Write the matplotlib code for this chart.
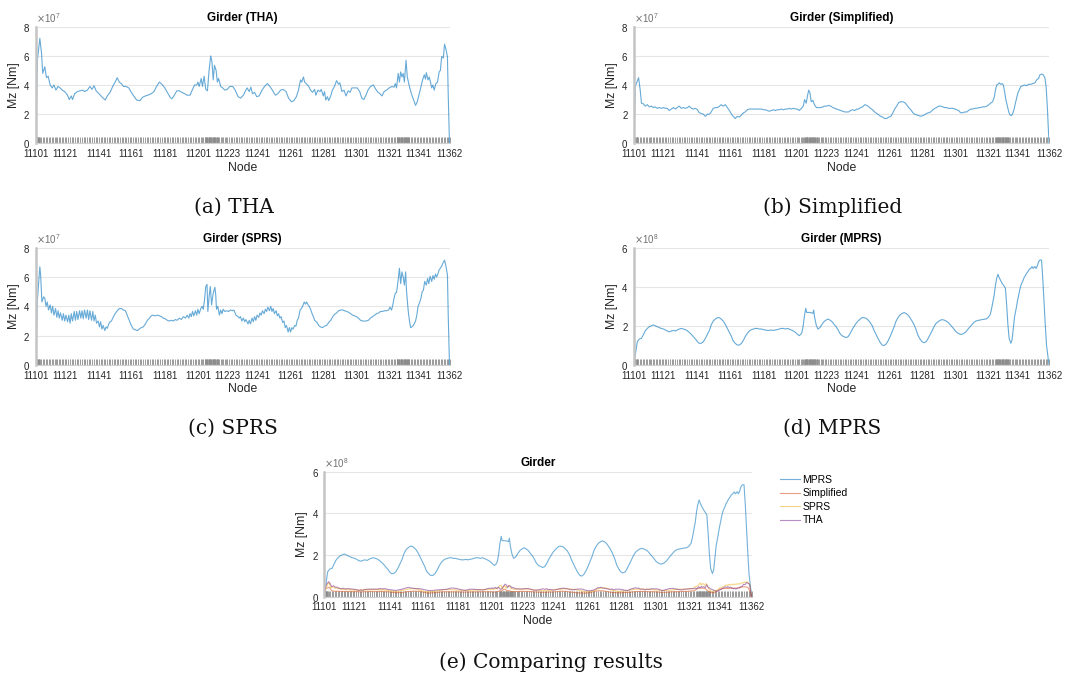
import numpy as np
import matplotlib
matplotlib.use("Agg")
import matplotlib.pyplot as plt
from matplotlib.ticker import ScalarFormatter

plt.rcParams["font.family"] = ["Liberation Sans", "DejaVu Sans"]

# ---------------------------------------------------------------- data
# Girder nodes: labelled nodes and their station along the girder (0..1000)
label_nodes = ["11101", "11121", "11141", "11161", "11181", "11201", "11223",
               "11241", "11261", "11281", "11301", "11321", "11341", "11362"]
label_station = [0, 70, 153, 231, 313, 392, 463, 536, 616, 696, 775, 855, 924, 1000]
# number of nodes between consecutive labelled nodes
nodes_between = [20, 20, 20, 20, 20, 22, 18, 20, 20, 20, 20, 20, 21]
# extra closely spaced nodes near the piers (station ranges, node count)
pier_clusters = [(0, 8, 6), (410, 440, 16), (872, 902, 16)]

# THA envelope, Mz in 1e7 Nm
tha_station = [0, 4, 10, 14, 17, 22, 26, 30, 35, 40, 44, 49, 54, 59, 64, 70, 77, 81, 86, 89,
               94, 101, 107, 114, 118, 125, 131, 136, 141, 146, 153, 161, 168, 173, 180, 186,
               192, 197, 202, 207, 212, 218, 225, 231, 238, 244, 252, 258, 265, 271, 279, 286,
               292, 299, 305, 312, 318, 325, 329, 334, 341, 347, 353, 360, 366, 373, 379, 384,
               389, 392, 395, 400, 403, 407, 411, 415, 419, 423, 426, 429, 432, 436, 439, 442,
               447, 452, 457, 463, 469, 476, 482, 489, 495, 502, 507, 511, 516, 520, 524, 529,
               534, 540, 547, 553, 560, 566, 573, 579, 585, 592, 598, 605, 611, 618, 624, 630,
               635, 640, 643, 647, 650, 655, 660, 664, 669, 674, 677, 682, 687, 690, 695, 698,
               701, 705, 708, 713, 717, 722, 727, 732, 735, 740, 745, 750, 755, 760, 764, 771,
               777, 783, 788, 793, 798, 803, 809, 816, 822, 827, 832, 837, 842, 848, 854, 861,
               866, 869, 872, 876, 879, 882, 885, 888, 891, 895, 898, 903, 908, 913, 918, 922,
               927, 932, 935, 939, 942, 944, 948, 951, 954, 957, 960, 963, 967, 971, 975, 978,
               981, 985, 988, 991, 995, 997, 1000]
tha_mz = [0, 5.7, 7.2, 6.2, 4.8, 5.25, 4.5, 4.6, 4.0, 3.8, 4.0, 3.65, 3.9, 3.8, 3.65, 3.55, 3.3,
          3.0, 3.25, 3.0, 3.4, 3.55, 3.6, 3.65, 3.55, 3.65, 3.9, 3.7, 3.95, 3.6, 3.4, 3.15, 2.97,
          3.25, 3.5, 3.9, 4.2, 4.5, 4.2, 4.1, 3.9, 3.9, 3.8, 3.5, 3.2, 2.97, 2.93, 3.15, 3.25,
          3.3, 3.4, 3.55, 3.9, 4.2, 4.05, 3.8, 3.5, 3.15, 3.05, 3.25, 3.6, 3.6, 3.5, 3.4, 3.3,
          3.3, 3.7, 4.0, 4.0, 4.2, 3.9, 4.45, 3.9, 4.6, 3.7, 3.6, 5.0, 6.0, 5.6, 4.35, 5.35, 5.0,
          4.2, 4.45, 3.9, 3.8, 3.65, 3.7, 3.9, 3.9, 3.65, 3.2, 3.1, 3.3, 3.6, 3.8, 3.55, 3.85,
          3.4, 3.5, 3.2, 3.25, 3.65, 3.9, 4.1, 3.9, 3.6, 3.3, 3.4, 3.65, 3.7, 3.55, 3.1, 2.85,
          2.93, 3.2, 3.65, 4.35, 4.2, 4.55, 4.2, 4.05, 3.9, 3.65, 3.5, 3.7, 3.3, 3.65, 3.55, 3.7,
          3.25, 3.55, 2.97, 3.2, 2.93, 3.25, 3.65, 3.9, 4.3, 4.05, 4.15, 3.55, 3.65, 3.25, 3.6,
          3.5, 3.8, 3.8, 3.8, 3.55, 3.1, 3.0, 3.3, 3.65, 3.9, 4.0, 3.7, 3.5, 3.4, 3.25, 3.55,
          3.65, 3.8, 3.9, 3.85, 4.1, 3.8, 4.8, 4.2, 4.9, 4.55, 4.8, 4.2, 5.7, 4.55, 3.9, 3.4,
          3.0, 2.6, 2.85, 3.4, 4.0, 4.35, 4.7, 4.4, 4.85, 4.35, 4.55, 4.2, 3.8, 4.0, 3.65, 4.1,
          4.2, 4.9, 5.0, 5.95, 5.85, 6.8, 6.5, 5.95, 3.2, 0]

# Simplified method, Mz in 1e7 Nm
simp_station = [0, 3, 11, 15, 18, 23, 27, 32, 37, 42, 47, 51, 56, 61, 66, 71, 76, 80, 85, 90,
                95, 100, 104, 109, 114, 119, 124, 129, 133, 138, 143, 148, 153, 157, 162, 167,
                172, 177, 182, 186, 191, 196, 201, 206, 210, 215, 220, 225, 230, 235, 239, 244,
                249, 254, 259, 264, 268, 273, 278, 283, 288, 292, 297, 302, 307, 312, 317, 321,
                326, 331, 336, 341, 345, 350, 355, 360, 365, 370, 374, 379, 384, 389, 394, 398,
                402, 405, 408, 411, 415, 418, 421, 424, 427, 431, 434, 437, 440, 445, 450, 455,
                459, 464, 469, 474, 479, 484, 488, 493, 498, 503, 508, 512, 517, 522, 527, 532,
                537, 541, 546, 551, 556, 561, 566, 570, 575, 580, 585, 590, 594, 599, 604, 609,
                614, 619, 623, 628, 633, 638, 643, 647, 652, 657, 662, 667, 672, 676, 681, 686,
                691, 696, 700, 705, 710, 715, 720, 725, 729, 734, 739, 744, 749, 753, 758, 763,
                768, 773, 778, 782, 787, 792, 797, 802, 806, 811, 816, 821, 826, 831, 835, 840,
                845, 850, 855, 859, 864, 868, 871, 874, 877, 880, 884, 887, 890, 893, 896, 900,
                903, 906, 909, 912, 916, 919, 922, 925, 929, 932, 937, 941, 946, 951, 956, 961,
                966, 970, 975, 978, 983, 986, 990, 993, 996, 1000]
simp_mz = [0, 3.9, 4.5, 3.65, 2.75, 2.7, 2.55, 2.65, 2.5, 2.55, 2.45, 2.5, 2.4, 2.45, 2.4, 2.45,
           2.4, 2.4, 2.25, 2.35, 2.45, 2.35, 2.45, 2.55, 2.4, 2.45, 2.4, 2.45, 2.55, 2.4, 2.35,
           2.4, 2.3, 2.1, 2.05, 2.0, 1.85, 2.0, 2.0, 2.15, 2.4, 2.45, 2.45, 2.55, 2.65, 2.55,
           2.65, 2.45, 2.25, 2.0, 1.85, 1.7, 1.85, 1.8, 1.95, 2.1, 2.15, 2.3, 2.35, 2.35, 2.35,
           2.35, 2.35, 2.35, 2.35, 2.3, 2.3, 2.25, 2.2, 2.25, 2.3, 2.25, 2.3, 2.3, 2.35, 2.3,
           2.35, 2.35, 2.4, 2.35, 2.4, 2.35, 2.35, 2.25, 2.35, 2.45, 2.55, 3.0, 2.75, 3.25, 3.65,
           3.45, 2.85, 2.95, 2.7, 2.55, 2.45, 2.45, 2.45, 2.5, 2.55, 2.55, 2.6, 2.55, 2.45, 2.4,
           2.35, 2.3, 2.25, 2.2, 2.15, 2.15, 2.15, 2.25, 2.3, 2.25, 2.35, 2.35, 2.45, 2.5, 2.65,
           2.6, 2.5, 2.4, 2.3, 2.15, 2.05, 1.95, 1.85, 1.8, 1.7, 1.7, 1.8, 1.85, 2.05, 2.35,
           2.55, 2.8, 2.85, 2.85, 2.8, 2.65, 2.45, 2.3, 2.1, 2.0, 1.95, 1.9, 1.85, 1.9, 1.95,
           2.05, 2.1, 2.15, 2.3, 2.4, 2.45, 2.55, 2.55, 2.5, 2.45, 2.45, 2.4, 2.4, 2.4, 2.35,
           2.3, 2.25, 2.1, 2.1, 2.15, 2.15, 2.25, 2.35, 2.35, 2.4, 2.4, 2.45, 2.45, 2.5, 2.5,
           2.55, 2.65, 2.75, 2.85, 3.15, 3.65, 4.0, 4.05, 4.15, 4.05, 4.1, 4.0, 3.55, 3.0, 2.5,
           2.15, 1.95, 1.9, 2.0, 2.35, 2.75, 3.1, 3.45, 3.7, 3.9, 3.95, 4.0, 3.95, 4.05, 4.05,
           4.1, 4.15, 4.35, 4.45, 4.7, 4.75, 4.7, 4.5, 3.9, 2.5, 0]

# SPRS, Mz in 1e7 Nm
sprs_station = [0, 4, 10, 12, 15, 19, 22, 25, 28, 31, 35, 38, 41, 44, 48, 51, 54, 57, 60, 64,
                67, 70, 73, 77, 80, 83, 86, 89, 93, 96, 99, 102, 106, 109, 112, 115, 118, 122,
                125, 128, 131, 135, 138, 141, 144, 147, 151, 154, 157, 160, 163, 167, 170, 173,
                178, 183, 188, 192, 197, 202, 207, 212, 217, 221, 226, 231, 236, 241, 246, 250,
                255, 260, 265, 270, 275, 279, 284, 289, 294, 299, 304, 308, 313, 318, 323, 328,
                333, 337, 342, 347, 352, 357, 362, 366, 370, 373, 376, 379, 382, 386, 389, 392,
                395, 399, 402, 405, 408, 411, 414, 416, 419, 422, 425, 429, 433, 435, 437, 440,
                444, 447, 450, 453, 457, 461, 466, 471, 476, 479, 484, 489, 492, 495, 498, 502,
                505, 508, 513, 516, 519, 523, 526, 529, 532, 535, 539, 542, 545, 548, 552, 555,
                558, 561, 565, 568, 571, 574, 577, 581, 584, 587, 590, 593, 597, 600, 603, 606,
                610, 613, 616, 619, 622, 626, 629, 632, 635, 639, 642, 645, 649, 652, 655, 658,
                661, 665, 668, 671, 674, 678, 681, 684, 688, 693, 698, 703, 708, 713, 718, 722,
                727, 732, 737, 742, 747, 751, 756, 761, 766, 771, 775, 780, 785, 790, 795, 799,
                804, 809, 814, 819, 824, 829, 833, 838, 843, 848, 853, 856, 860, 863, 866, 869,
                872, 876, 879, 882, 885, 888, 891, 894, 896, 900, 903, 906, 909, 913, 918, 921,
                924, 927, 931, 934, 937, 940, 944, 947, 950, 953, 957, 960, 963, 966, 969, 973,
                975, 978, 982, 985, 988, 991, 995, 997, 1000]
sprs_mz = [0, 4.4, 6.7, 6.1, 4.3, 4.65, 4.55, 4.0, 4.3, 3.75, 4.1, 3.55, 4.0, 3.4, 3.85, 3.25,
           3.7, 3.2, 3.55, 3.05, 3.5, 3.0, 3.4, 2.95, 3.4, 2.85, 3.5, 3.0, 3.65, 3.05, 3.65, 3.1,
           3.7, 3.2, 3.7, 3.15, 3.75, 3.2, 3.75, 3.1, 3.7, 3.05, 3.65, 3.0, 3.4, 2.85, 3.0, 2.6,
           2.95, 2.45, 2.7, 2.35, 2.6, 2.5, 2.9, 3.0, 3.3, 3.5, 3.7, 3.85, 3.85, 3.75, 3.7, 3.4,
           3.05, 2.7, 2.45, 2.4, 2.35, 2.45, 2.55, 2.6, 2.8, 3.05, 3.2, 3.35, 3.4, 3.35, 3.4,
           3.35, 3.3, 3.2, 3.15, 3.05, 3.0, 3.05, 3.0, 3.1, 3.05, 3.2, 3.1, 3.3, 3.2, 3.4, 3.2,
           3.5, 3.3, 3.65, 3.35, 3.7, 3.4, 3.8, 3.5, 3.85, 4.0, 3.8, 4.45, 5.35, 5.5, 3.65, 4.65,
           5.35, 4.1, 4.9, 5.3, 4.8, 3.8, 4.0, 3.4, 3.75, 3.5, 3.8, 3.65, 3.7, 3.65, 3.75, 3.7,
           3.75, 3.4, 3.3, 3.2, 3.3, 3.0, 3.2, 2.95, 3.1, 2.8, 3.05, 2.8, 3.2, 2.95, 3.3, 3.05,
           3.4, 3.25, 3.55, 3.4, 3.7, 3.5, 3.8, 3.65, 3.95, 3.7, 4.0, 3.65, 3.85, 3.5, 3.7, 3.35,
           3.5, 3.2, 3.3, 2.9, 3.0, 2.55, 2.7, 2.25, 2.55, 2.25, 2.55, 2.45, 2.7, 2.65, 3.05,
           3.2, 3.75, 3.85, 4.0, 4.3, 4.15, 4.3, 4.1, 4.0, 3.75, 3.5, 3.3, 3.05, 2.95, 2.85, 2.7,
           2.6, 2.55, 2.65, 2.7, 2.9, 3.05, 3.3, 3.45, 3.55, 3.7, 3.75, 3.75, 3.7, 3.65, 3.6,
           3.5, 3.4, 3.35, 3.3, 3.2, 3.05, 3.0, 3.0, 3.0, 3.05, 3.2, 3.3, 3.4, 3.5, 3.55, 3.65,
           3.65, 3.7, 3.7, 3.75, 3.95, 3.75, 4.1, 4.55, 4.9, 4.95, 5.8, 6.6, 5.55, 6.35, 6.0,
           5.45, 6.35, 5.1, 3.75, 3.05, 2.55, 2.6, 2.7, 3.0, 3.4, 4.0, 4.2, 4.55, 5.0, 5.1, 5.7,
           5.45, 5.9, 5.55, 6.05, 5.7, 6.1, 5.85, 6.2, 6.0, 6.3, 6.5, 6.6, 6.8, 7.0, 7.15, 6.8,
           6.15, 3.3, 0]

# MPRS, Mz in 1e8 Nm
mprs_station = [0, 3, 8, 13, 18, 23, 27, 32, 37, 42, 47, 51, 56, 61, 66, 71, 76, 80, 85, 90,
                95, 100, 104, 109, 114, 119, 124, 129, 133, 138, 143, 148, 153, 157, 162, 167,
                172, 177, 182, 186, 191, 196, 201, 206, 210, 215, 220, 225, 230, 235, 239, 244,
                249, 254, 259, 264, 268, 273, 278, 283, 288, 292, 297, 302, 307, 312, 317, 321,
                326, 331, 336, 341, 345, 350, 355, 360, 365, 370, 374, 379, 384, 389, 394, 398,
                402, 405, 408, 411, 414, 416, 421, 426, 431, 433, 435, 439, 443, 448, 453, 458,
                463, 468, 472, 477, 482, 487, 492, 496, 501, 506, 511, 516, 521, 525, 530, 535,
                540, 545, 549, 554, 559, 564, 569, 574, 578, 583, 588, 593, 598, 602, 607, 612,
                617, 622, 627, 631, 636, 641, 646, 651, 655, 660, 665, 670, 675, 680, 684, 689,
                694, 699, 704, 708, 713, 718, 723, 728, 733, 737, 742, 747, 752, 757, 761, 766,
                771, 776, 781, 786, 790, 795, 800, 805, 810, 815, 819, 824, 829, 834, 839, 843,
                848, 853, 858, 861, 864, 868, 871, 874, 877, 880, 884, 887, 890, 893, 895, 898,
                901, 904, 908, 911, 914, 917, 921, 924, 927, 930, 933, 937, 940, 943, 946, 949,
                953, 956, 959, 962, 966, 969, 972, 975, 978, 982, 985, 988, 991, 994, 1000]
mprs_mz = [0, 0.5, 1.2, 1.33, 1.36, 1.57, 1.74, 1.87, 1.96, 2.01, 2.05, 2.01, 1.96, 1.91, 1.87,
           1.84, 1.79, 1.74, 1.7, 1.74, 1.77, 1.74, 1.79, 1.84, 1.87, 1.84, 1.81, 1.74, 1.67,
           1.57, 1.45, 1.33, 1.19, 1.11, 1.11, 1.19, 1.36, 1.57, 1.79, 2.05, 2.25, 2.35, 2.42,
           2.42, 2.35, 2.25, 2.08, 1.87, 1.67, 1.45, 1.23, 1.11, 1.02, 1.02, 1.11, 1.28, 1.45,
           1.62, 1.74, 1.81, 1.84, 1.87, 1.87, 1.84, 1.84, 1.81, 1.79, 1.77, 1.77, 1.79, 1.77,
           1.79, 1.81, 1.84, 1.87, 1.87, 1.84, 1.87, 1.84, 1.79, 1.74, 1.67, 1.57, 1.5, 1.57,
           1.7, 2.05, 2.56, 2.9, 2.69, 2.69, 2.68, 2.64, 2.81, 2.47, 2.05, 1.84, 1.91, 2.08,
           2.22, 2.3, 2.35, 2.3, 2.22, 2.08, 1.96, 1.79, 1.62, 1.5, 1.45, 1.4, 1.45, 1.62, 1.79,
           1.96, 2.13, 2.25, 2.35, 2.42, 2.42, 2.39, 2.3, 2.18, 2.01, 1.79, 1.57, 1.36, 1.16,
           1.02, 0.99, 1.06, 1.23, 1.45, 1.7, 1.96, 2.22, 2.42, 2.56, 2.64, 2.68, 2.64, 2.56,
           2.42, 2.25, 2.05, 1.79, 1.53, 1.33, 1.19, 1.14, 1.19, 1.33, 1.53, 1.74, 1.96, 2.13,
           2.22, 2.28, 2.32, 2.3, 2.25, 2.18, 2.08, 1.96, 1.84, 1.7, 1.62, 1.57, 1.57, 1.62,
           1.7, 1.84, 1.96, 2.08, 2.18, 2.25, 2.28, 2.3, 2.32, 2.34, 2.35, 2.42, 2.56, 2.81,
           3.15, 3.58, 4.09, 4.43, 4.64, 4.47, 4.3, 4.18, 4.09, 4.0, 3.92, 3.07, 2.05, 1.36,
           1.11, 1.28, 1.87, 2.47, 2.9, 3.27, 3.58, 3.89, 4.12, 4.3, 4.47, 4.57, 4.69, 4.77,
           4.91, 4.94, 5.03, 4.94, 5.04, 4.94, 5.08, 5.28, 5.37, 5.37, 4.43, 3.24, 2.05, 1.02, 0]

series_names = ["MPRS", "Simplified", "SPRS", "THA"]
series_colors = ["#0072BD", "#D95319", "#EDB120", "#7E2F8E"]

# ---------------------------------------------------------------- helpers
W, H = 1065, 690
fig = plt.figure(figsize=(W / 100, H / 100), dpi=100)
fig.patch.set_facecolor("white")


def node_ticks():
    ticks = []
    for i, n in enumerate(nodes_between):
        ticks.extend(np.linspace(label_station[i], label_station[i + 1], n + 1)[:-1])
    ticks.append(label_station[-1])
    for a, b, n in pier_clusters:
        ticks.extend(np.linspace(a, b, n))
    return np.array(ticks)


def make_axes(left, top, right, bottom):
    return fig.add_axes([left / W, 1 - bottom / H, (right - left) / W, (bottom - top) / H])


def style_axes(ax, title, ymax, ystep):
    ax.set_xlim(0, 1000)
    ax.set_ylim(0, ymax)
    ax.set_xticks(label_station)
    ax.set_xticklabels(label_nodes)
    ax.set_xticks(node_ticks(), minor=True)
    ax.tick_params(axis="x", which="both", direction="in", length=4.2, width=0.6,
                   color="#8a8a8a", labelsize=7.0, labelcolor="#262626", pad=4)
    ax.set_yticks(np.arange(0, ymax + 1, ystep))
    ax.tick_params(axis="y", direction="in", length=0, labelsize=7.0,
                   labelcolor="#262626", pad=4)
    fmt = ScalarFormatter(useMathText=True)
    ax.yaxis.set_major_formatter(fmt)
    ax.yaxis.get_offset_text().set_fontsize(7)
    ax.yaxis.get_offset_text().set_color("#707070")
    ax.grid(axis="y", color="#e6e6e6", linewidth=0.8)
    ax.set_axisbelow(True)
    for side in ("top", "right"):
        ax.spines[side].set_visible(False)
    ax.spines["left"].set_color("#c4c4c4")
    ax.spines["left"].set_linewidth(1.8)
    ax.spines["bottom"].set_color("#d0d0d0")
    ax.spines["bottom"].set_linewidth(0.8)
    ax.set_title(title, fontsize=8.5, fontweight="bold", pad=4)
    ax.set_xlabel("Node", fontsize=8.8, color="#262626", labelpad=2)
    ax.set_ylabel("Mz [Nm]", fontsize=8.8, color="#262626", labelpad=2.5)


# ---------------------------------------------------------------- single-method panels
panels = [
    ((35.7, 26.7, 449.5, 143.3), "Girder (THA)", tha_station, tha_mz, 1e7, 8e7, 2e7),
    ((634, 26.7, 1049, 143.3), "Girder (Simplified)", simp_station, simp_mz, 1e7, 8e7, 2e7),
    ((35.7, 247.7, 449.5, 365), "Girder (SPRS)", sprs_station, sprs_mz, 1e7, 8e7, 2e7),
    ((634, 247.7, 1049, 365), "Girder (MPRS)", mprs_station, mprs_mz, 1e8, 6e8, 2e8),
]
for box, title, st, mz, unit, ymax, ystep in panels:
    ax = make_axes(*box)
    ax.plot(st, np.array(mz) * unit, color="#0072BD", alpha=0.6, linewidth=0.8)
    style_axes(ax, title, ymax, ystep)

# ---------------------------------------------------------------- comparison panel
ax = make_axes(324.3, 471.7, 751.7, 596.7)
comparison = [(mprs_station, mprs_mz, 1e8), (simp_station, simp_mz, 1e7),
              (sprs_station, sprs_mz, 1e7), (tha_station, tha_mz, 1e7)]
handles = []
for (st, mz, unit), name, col in zip(comparison, series_names, series_colors):
    h, = ax.plot(st, np.array(mz) * unit, color=col, alpha=0.55, linewidth=0.8, label=name)
    handles.append(h)
style_axes(ax, "Girder", 6e8, 2e8)
fig.legend(handles=handles, loc="upper left", bbox_to_anchor=(780 / W, 1 - 475 / H),
           frameon=False, fontsize=7.5, handlelength=1.9, handletextpad=0.25,
           labelspacing=0.33, borderpad=0, borderaxespad=0)

# ---------------------------------------------------------------- sub-captions
captions = [("(a) THA", 234, 207), ("(b) Simplified", 833, 207),
            ("(c) SPRS", 233, 428), ("(d) MPRS", 832, 428),
            ("(e) Comparing results", 551, 662)]
for text, x, y in captions:
    fig.text(x / W, 1 - y / H, text, ha="center", va="center",
             family="DejaVu Serif", fontsize=14.5, color="#111111")

fig.savefig("out.png", dpi=100, facecolor="white")
